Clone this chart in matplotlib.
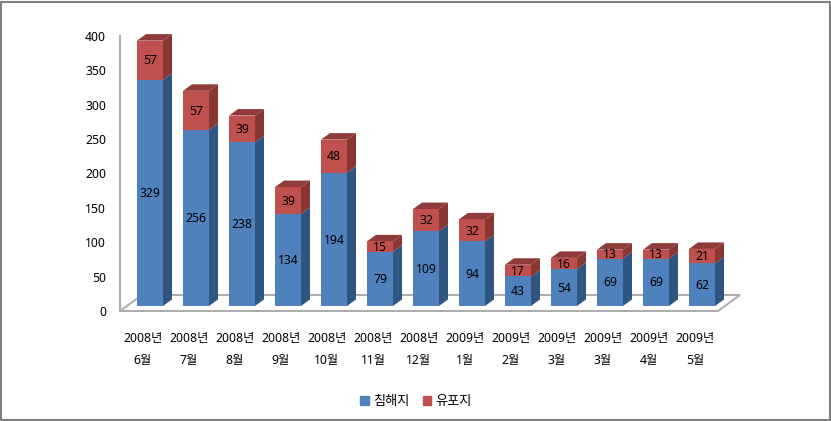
import matplotlib
matplotlib.use("Agg")
import matplotlib.pyplot as plt
from matplotlib.patches import Polygon, Patch, Rectangle

plt.rcParams['font.family'] = ['Noto Sans', 'Noto Sans CJK KR', 'DejaVu Sans']

years = ["2008년"] * 7 + ["2009년"] * 6
months = ["6월", "7월", "8월", "9월", "10월", "11월", "12월", "1월", "2월", "3월", "3월", "4월", "5월"]
invaded = [329, 256, 238, 134, 194, 79, 109, 94, 43, 54, 69, 69, 62]
leaked = [57, 57, 39, 39, 48, 15, 32, 32, 17, 16, 13, 13, 21]
yticks = [0, 50, 100, 150, 200, 250, 300, 350, 400]

W, H = 831, 421
BLUE, BLUE_SIDE = "#4F81BD", "#2F5582"
RED, RED_SIDE, RED_TOP = "#C0504D", "#8A3633", "#8F3B39"
GRID = "#ABABAB"
FONT = 8.8

fig = plt.figure(figsize=(W / 100, H / 100), dpi=100)
# outer frame, sits just inside the image edge
fig.patches.append(Rectangle((1 / W, 1.5 / H), 828.5 / W, 418 / H, transform=fig.transFigure,
                             fill=False, edgecolor="#7F7F7F", linewidth=1.5))
ax = fig.add_axes([120 / W, (H - 311) / H, 598 / W, 275 / H])
ax.set_xlim(-0.5, 12.5)
ax.set_ylim(0, 400)

# 3D offsets, in data units
px_x = 13 / 598
px_y = 400 / 275
shift = 7 * px_x
bar_w = 26 * px_x
dx = 9 * px_x
dy = 6.5 * px_y
base = 5 * px_y

# floor
floor = Polygon([(-0.5, 0), (-0.5 + 22 * px_x, 16 * px_y),
                 (12.5 + 22 * px_x, 16 * px_y), (12.5, 0)],
                closed=True, fill=False, edgecolor=GRID, linewidth=1.4,
                clip_on=False, zorder=1)
ax.add_patch(floor)

for i, (a, b) in enumerate(zip(invaded, leaked)):
    x = i + shift
    left, right = x - bar_w / 2, x + bar_w / 2
    y0, y1, y2 = base, base + a, base + a + b
    ax.bar(x, a, bar_w, bottom=y0, color=BLUE, zorder=3)
    ax.bar(x, b, bar_w, bottom=y1, color=RED, zorder=3)
    ax.add_patch(Polygon([(right, y0), (right + dx, y0 + dy), (right + dx, y1 + dy), (right, y1)],
                         color=BLUE_SIDE, lw=0, clip_on=False, zorder=2))
    ax.add_patch(Polygon([(right, y1), (right + dx, y1 + dy), (right + dx, y2 + dy), (right, y2)],
                         color=RED_SIDE, lw=0, clip_on=False, zorder=2))
    ax.add_patch(Polygon([(left, y2), (left + dx, y2 + dy), (right + dx, y2 + dy), (right, y2)],
                         color=RED_TOP, lw=0, clip_on=False, zorder=2))
    ax.text(x, y0 + a / 2 - 1, str(a), ha="center", va="center", fontsize=FONT, color="black", zorder=4)
    ax.text(x, y1 + b / 2 - 1, str(b), ha="center", va="center", fontsize=FONT, color="black", zorder=4)

for s in ["top", "right", "bottom"]:
    ax.spines[s].set_visible(False)
ax.spines["left"].set_color(GRID)
ax.spines["left"].set_linewidth(1.4)

ax.set_yticks(yticks)
ax.set_xticks(range(len(months)))
ax.set_xticklabels([f"{y}\n{m}" for y, m in zip(years, months)], linespacing=1.9)
ax.tick_params(axis="both", length=0, labelsize=FONT, colors="black")
ax.tick_params(axis="y", pad=10)
ax.tick_params(axis="x", pad=15)

handles = [Patch(color=BLUE, label="침해지"), Patch(color=RED, label="유포지")]
fig.legend(handles=handles, ncol=2, loc="center", bbox_to_anchor=(416 / W, 1 - 402 / H),
           frameon=False, fontsize=9.5, handlelength=0.65, handleheight=0.65,
           handletextpad=0.3, columnspacing=1.0)

fig.savefig("out.png", dpi=100)
